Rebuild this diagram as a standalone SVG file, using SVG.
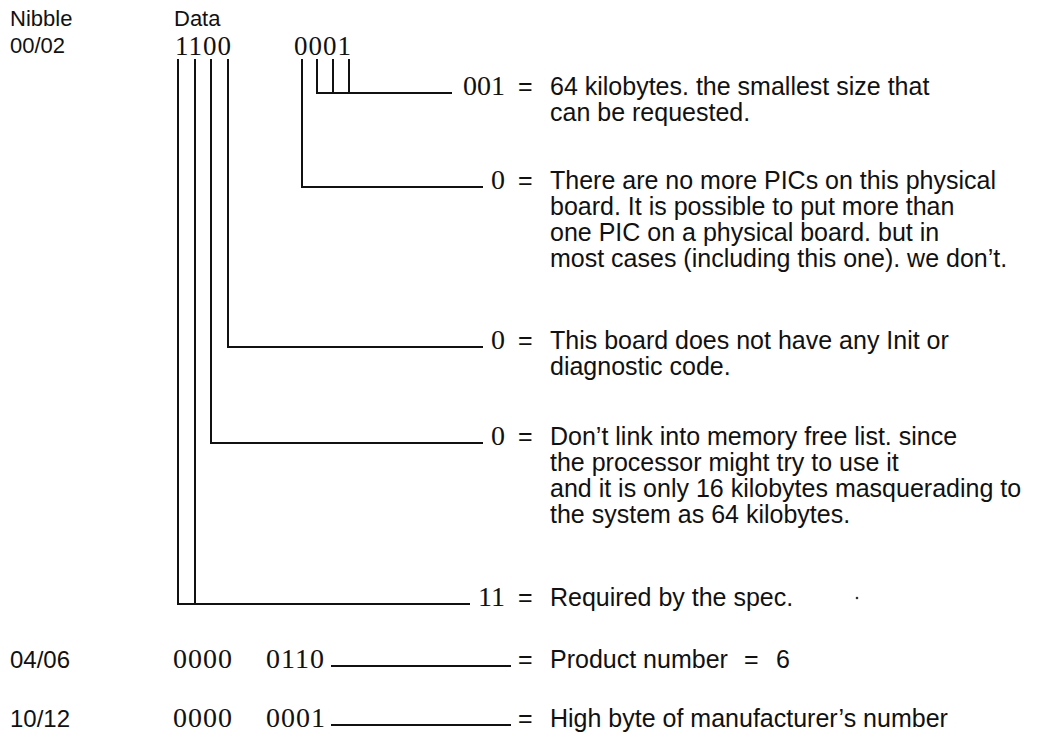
<svg xmlns="http://www.w3.org/2000/svg" width="1063" height="737" viewBox="0 0 1063 737">
<style>
.t{font-family:"Liberation Sans","DejaVu Sans",sans-serif;font-size:24px;fill:#111}
.h{font-family:"Liberation Sans","DejaVu Sans",sans-serif;font-size:22px;fill:#111}
.s{font-family:"Liberation Sans","DejaVu Sans",sans-serif;font-size:25px;fill:#111}
.d{font-family:"Liberation Serif","DejaVu Serif",serif;font-size:28px;letter-spacing:1px;fill:#111}
.dh{font-size:27px;letter-spacing:1px}
.v{text-anchor:end;letter-spacing:0}
line,path{stroke:#111;stroke-width:2;fill:none}
</style>
<rect width="1063" height="737" fill="#fff"/>
<g id="header">
<text class="h" x="10" y="26">Nibble</text>
<text class="h" x="10" y="53">00/02</text>
<text class="h" x="174" y="26">Data</text>
<text class="d dh" x="175" y="55">1100</text>
<text class="d dh" x="294" y="55">0001</text>
</g>
<g id="connectors">
<path d="M302 59V187H483"/>
<path d="M317 59V93H452"/>
<line x1="333" y1="59" x2="333" y2="93"/>
<line x1="349" y1="59" x2="349" y2="93"/>
<path d="M228 59V347H483"/>
<path d="M211 59V443H483"/>
<path d="M195 59V604"/>
<path d="M178 59V604H470"/>
<line x1="331" y1="666" x2="511" y2="666"/>
<line x1="331" y1="725" x2="511" y2="725"/>
</g>
<g id="n-size">
<text class="d v" x="505" y="95">001</text>
<text class="s" x="518" y="95">=</text>
<text class="s" x="550" y="95">64 kilobytes. the smallest size that</text>
<text class="s" x="550" y="121">can be requested.</text>
</g>
<g id="n-pics">
<text class="d v" x="505" y="189">0</text>
<text class="s" x="518" y="189">=</text>
<text class="s" x="550" y="189">There are no more PICs on this physical</text>
<text class="s" x="550" y="215">board. It is possible to put more than</text>
<text class="s" x="550" y="241">one PIC on a physical board. but in</text>
<text class="s" x="550" y="267">most cases (including this one). we don’t.</text>
</g>
<g id="n-init">
<text class="d v" x="505" y="349">0</text>
<text class="s" x="518" y="349">=</text>
<text class="s" x="550" y="349">This board does not have any Init or</text>
<text class="s" x="550" y="375">diagnostic code.</text>
</g>
<g id="n-mem">
<text class="d v" x="505" y="445">0</text>
<text class="s" x="518" y="445">=</text>
<text class="s" x="550" y="445">Don’t link into memory free list. since</text>
<text class="s" x="550" y="471">the processor might try to use it</text>
<text class="s" x="550" y="497">and it is only 16 kilobytes masquerading to</text>
<text class="s" x="550" y="523">the system as 64 kilobytes.</text>
</g>
<g id="n-spec">
<text class="d v" x="505" y="606">11</text>
<text class="s" x="518" y="606">=</text>
<text class="s" x="550" y="606">Required by the spec.</text>
<circle cx="857" cy="598" r="1.3" fill="#333"/>
</g>
<g id="n-product">
<text class="t" x="10" y="668">04/06</text>
<text class="d" x="173" y="668">0000</text>
<text class="d" x="266" y="668">0110</text>
<text class="s" x="518" y="668">=</text>
<text class="s" x="550" y="668">Product number<tspan x="744">=</tspan><tspan x="776">6</tspan></text>
</g>
<g id="n-manuf">
<text class="t" x="10" y="727">10/12</text>
<text class="d" x="173" y="727">0000</text>
<text class="d" x="266" y="727">0001</text>
<text class="s" x="518" y="727">=</text>
<text class="s" x="550" y="727">High byte of manufacturer’s number</text>
</g>
</svg>
